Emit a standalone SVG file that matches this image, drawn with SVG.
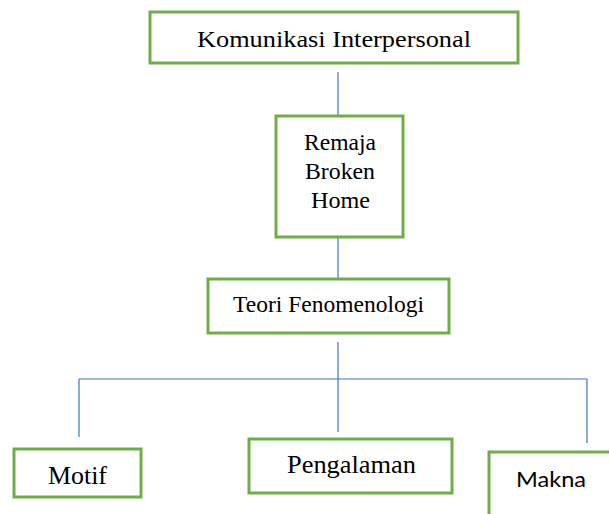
<svg xmlns="http://www.w3.org/2000/svg" width="609" height="514" viewBox="0 0 609 514">
<style>
.box{fill:#fff;stroke:#70AD47;stroke-width:3}
.t{font-family:"Liberation Serif","Times New Roman",serif;font-size:24px;fill:#000;text-anchor:middle}
.s{font-family:Lato,"Liberation Sans",sans-serif;font-size:22px;fill:#000;text-anchor:middle}
.c line{stroke:#4472C4;stroke-width:1.2}
</style>
<rect width="609" height="514" fill="#fff"/>
<g class="c" id="connectors">
<line x1="338" y1="72" x2="338" y2="116"/>
<line x1="338" y1="237" x2="338" y2="279"/>
<line x1="338" y1="342" x2="338" y2="432"/>
<line x1="79" y1="379" x2="587" y2="379"/>
<line x1="79" y1="379" x2="79" y2="437"/>
<line x1="587" y1="379" x2="587" y2="443"/>
</g>
<g id="komunikasi">
<rect class="box" x="150" y="12" width="368" height="51"/>
<text class="t" x="334" y="47" textLength="274" lengthAdjust="spacingAndGlyphs">Komunikasi Interpersonal</text>
</g>
<g id="remaja">
<rect class="box" x="276" y="116" width="127" height="121"/>
<text class="t" x="340" y="150" textLength="72" lengthAdjust="spacingAndGlyphs">Remaja</text>
<text class="t" x="340" y="179" textLength="70" lengthAdjust="spacingAndGlyphs">Broken</text>
<text class="t" x="340.5" y="208" textLength="59" lengthAdjust="spacingAndGlyphs">Home</text>
</g>
<g id="teori">
<rect class="box" x="208" y="279" width="241" height="54"/>
<text class="t" x="328.5" y="312" textLength="191" lengthAdjust="spacingAndGlyphs">Teori Fenomenologi</text>
</g>
<g id="motif">
<rect class="box" x="14" y="449" width="127" height="48"/>
<text class="t" x="77.5" y="484" style="font-size:25px" textLength="59" lengthAdjust="spacingAndGlyphs">Motif</text>
</g>
<g id="pengalaman">
<rect class="box" x="249" y="439" width="203" height="54"/>
<text class="t" x="351.5" y="473" style="font-size:25px" textLength="129" lengthAdjust="spacingAndGlyphs">Pengalaman</text>
</g>
<g id="makna">
<rect class="box" x="489" y="452" width="130" height="70"/>
<text class="s" x="551" y="487" textLength="70" lengthAdjust="spacingAndGlyphs">Makna</text>
</g>
</svg>
